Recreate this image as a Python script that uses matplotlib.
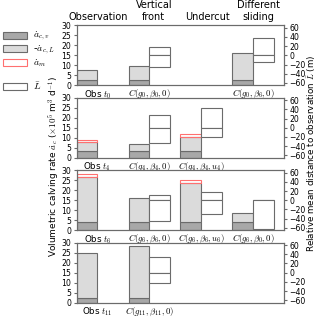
import matplotlib
matplotlib.use('Agg')
import matplotlib.pyplot as plt
import matplotlib.transforms as mtransforms
from matplotlib.patches import Patch
import numpy as np

plt.rcParams['mathtext.fontset'] = 'cm'
plt.rcParams['font.size'] = 6.5

nan = np.nan
columns = ['Observation', 'Vertical\nfront', 'Undercut', 'Different\nsliding']
tick_labels = [
    [r'Obs $t_0$', r'$C(g_0,\beta_0,0)$', '', r'$C(g_0,\beta_6,0)$'],
    [r'Obs $t_4$', r'$C(g_4,\beta_4,0)$', r'$C(g_4,\beta_4,u_4)$', ''],
    [r'Obs $t_6$', r'$C(g_6,\beta_6,0)$', r'$C(g_6,\beta_6,u_6)$', r'$C(g_6,\beta_0,0)$'],
    [r'Obs $t_{11}$', r'$C(g_{11},\beta_{11},0)$', '', ''],
]
# calving rate parts (x10^5 m3/d), one row per time step
acv = [[2.5, 2.5, nan, 2.6], [3.6, 3.4, 3.4, nan], [4.3, 4.3, 4.3, 4.3], [2.3, 2.3, nan, nan]]
acl = [[5.0, 7.0, nan, 13.7], [4.2, 3.6, 7.1, nan], [22.5, 11.8, 19.4, 4.3], [22.7, 26.0, nan, nan]]
am = [[0, 0, nan, 0], [1.2, 0, 1.5, nan], [1.3, 0, 1.3, 0], [0, 0, nan, nan]]
# relative mean distance to observation (m), upper / lower part of the box
L_up = [[nan, 17, nan, 37], [nan, 27, 43, nan], [nan, 11, 18, 1], [nan, 34, nan, nan]]
L_lo = [[nan, -26, nan, -14], [nan, -32, -19.5, nan], [nan, -46, -29, -62], [nan, -23, nan, nan]]

dark = '0.66'
light = '0.86'
edge = '0.42'
red = '#ff7070'
w = 0.4

fig, axes = plt.subplots(4, 1, figsize=(3.2, 3.2), dpi=100)
fig.subplots_adjust(left=0.2396, right=0.8875, top=0.921, bottom=0.054, hspace=0.208)

x = np.arange(4)
for k, ax in enumerate(axes):
    v = np.array(acv[k])
    l = np.array(acl[k])
    m = np.array(am[k])
    ok = np.isfinite(v)
    ax.bar(x[ok], v[ok], w, align='edge', color=dark, edgecolor=edge, lw=0.8)
    ax.bar(x[ok], l[ok], w, bottom=v[ok], align='edge', color=light, edgecolor=edge, lw=0.8)
    okm = ok & (np.nan_to_num(m) > 0)
    ax.bar(x[okm], m[okm], w, bottom=(v + l)[okm], align='edge', facecolor='none', edgecolor=red, lw=0.8)
    ax.set_xlim(0, 4)
    ax.set_ylim(0, 30)
    ax.set_yticks(range(0, 31, 5))
    ax.set_xticks(x + w)
    ax.set_xticklabels(tick_labels[k])
    ax.tick_params(axis='x', length=0, pad=2, labelsize=6.3)
    ax.tick_params(axis='y', length=2.5, pad=1.5, color=edge, labelsize=5.6)

    ax2 = ax.twinx()
    up = np.array(L_up[k], dtype=float)
    lo = np.array(L_lo[k], dtype=float)
    okl = np.isfinite(up)
    ax2.bar(x[okl] + w, up[okl], w, align='edge', color='white', edgecolor=edge, lw=0.8)
    ax2.bar(x[okl] + w, lo[okl], w, align='edge', color='white', edgecolor=edge, lw=0.8)
    ax2.set_ylim(-65, 65)
    ax2.set_yticks(range(-60, 61, 20))
    ax2.tick_params(axis='y', length=2.5, pad=1.5, color=edge, labelsize=5.6)
    for a in (ax, ax2):
        for s in a.spines.values():
            s.set_color(edge)

# column titles above the top panel
trans = mtransforms.blended_transform_factory(axes[0].transData, axes[0].transAxes)
title_x = [0.41, 1.49, 2.52, 3.5]
for tx, c in zip(title_x, columns):
    axes[0].text(tx, 1.09, c, transform=trans, ha='center', va='baseline', fontsize=7)

fig.text(0.168, 0.48, r'Volumetric calving rate $\dot{a}_c$ ($\times10^5$ m$^3$ d$^{-1}$)',
         rotation=90, ha='center', va='center', fontsize=6.5)
fig.text(0.974, 0.52, r'Relative mean distance to observation $\bar{L}$ (m)',
         rotation=90, ha='center', va='center', fontsize=6.3)

handles = [Patch(facecolor=dark, edgecolor=edge, lw=0.8),
           Patch(facecolor=light, edgecolor=edge, lw=0.8),
           Patch(facecolor='white', edgecolor=red, lw=0.8),
           Patch(facecolor='none', edgecolor='none'),
           Patch(facecolor='white', edgecolor=edge, lw=0.8)]
labels = [r'$\dot{a}_{c,v}$', r'-$\dot{a}_{c,L}$', r'$\dot{a}_m$', ' ', r'$\bar{L}$']
fig.legend(handles, labels, loc='upper left', bbox_to_anchor=(0.01, 0.905), frameon=False,
           borderpad=0, borderaxespad=0, handlelength=2.4, handletextpad=0.7,
           labelspacing=0.05, fontsize=7)

fig.savefig('out.png', dpi=100)
